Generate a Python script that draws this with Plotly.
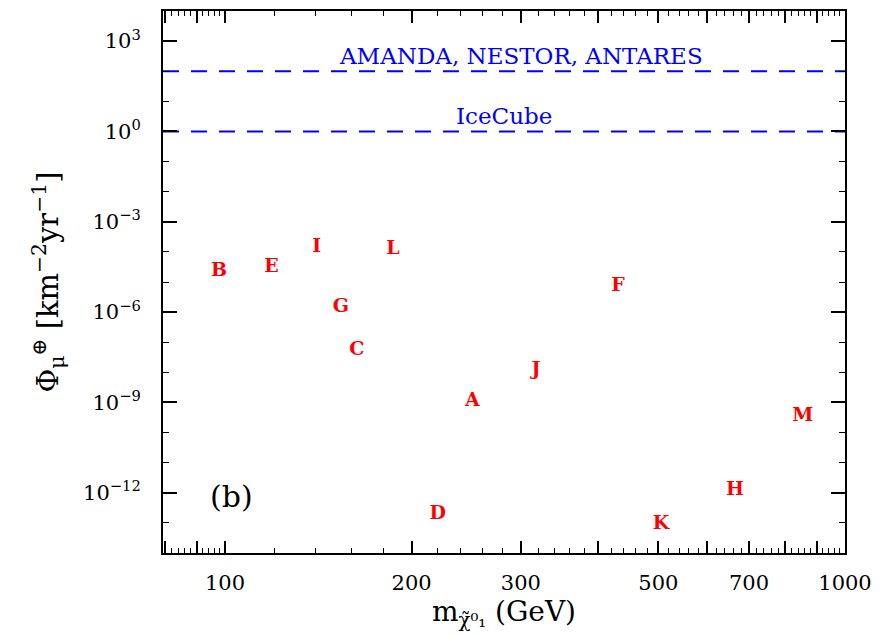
import math
import plotly.graph_objects as go

# Neutralino benchmark models: mass (GeV) and muon flux (km^-2 yr^-1)
models = ["A", "B", "C", "D", "E", "F", "G", "H", "I", "J", "K", "L", "M"]
mass = [250.6, 97.8, 163.1, 220.3, 118.9, 430.5, 153.8, 664.6, 140.6, 317.4, 504.8, 186.6, 855.0]
flux = [1.1e-9, 2.3e-5, 5.6e-8, 1.9e-13, 3.2e-5, 7.5e-6, 1.5e-6, 1.26e-12, 1.4e-4, 1.16e-8, 8.8e-14, 1.2e-4, 3.5e-10]

# Experimental sensitivities
experiments = ["AMANDA, NESTOR, ANTARES", "IceCube"]
sensitivity = [1e2, 1e0]
label_mass = [300, 282]

# Axis ticks
x_major = [80, 90, 100, 200, 300, 400, 500, 600, 700, 800, 900, 1000]
x_labels = ["", "", "100", "200", "300", "", "500", "", "700", "", "", "1000"]
x_minor = [v for v in range(82, 100, 2) if v != 90] + [v for v in range(120, 1000, 20) if v % 100 != 0]
y_exps = [-12, -9, -6, -3, 0, 3]
y_major = [10.0 ** e for e in y_exps]
y_labels = ["10<sup>%s</sup>" % (str(e).replace("-", "\u2212")) for e in y_exps]
y_minor = [10.0 ** e for e in range(-13, 4) if e % 3 != 0]

FONT = "DejaVu Serif"
RED = "#ff0000"
BLUE = "#0000ff"

fig = go.Figure()

for s in sensitivity:
    fig.add_trace(go.Scatter(
        x=[10 ** 1.9, 1000], y=[s, s], mode="lines",
        line=dict(color=BLUE, width=2, dash="16px,12px"),
        hoverinfo="skip", showlegend=False,
    ))

fig.add_trace(go.Scatter(
    x=mass, y=flux, mode="text", text=["<b>%s</b>" % m for m in models],
    textposition="middle center",
    textfont=dict(family=FONT, size=19, color=RED),
    showlegend=False,
))

# annotations on log axes take log10 coordinates
for name, s, m in zip(experiments, sensitivity, label_mass):
    fig.add_annotation(
        x=math.log10(m), y=math.log10(s), xref="x", yref="y", text=name,
        showarrow=False, xanchor="center", yanchor="bottom", yshift=0,
        font=dict(family=FONT, size=23, color=BLUE),
    )

fig.add_annotation(
    x=math.log10(102.6), y=math.log10(7.4e-13), xref="x", yref="y", text="(b)",
    showarrow=False, xanchor="center", yanchor="middle",
    font=dict(family=FONT, size=30, color="black"),
)

axis_common = dict(
    showline=True, linecolor="black", linewidth=2, mirror="allticks",
    ticks="inside", tickcolor="black", showgrid=False, zeroline=False,
    tickfont=dict(family=FONT, size=21, color="black"),
)

fig.update_xaxes(
    type="log", range=[1.9, 3.0],
    tickmode="array", tickvals=x_major, ticktext=x_labels,
    ticklen=12, tickwidth=1.5, ticklabelstandoff=10,
    minor=dict(tickmode="array", tickvals=x_minor, ticks="inside",
               ticklen=5, tickwidth=1.2, tickcolor="black", showgrid=False),
    title=dict(text="m<sub>\u03c7\u0303\u2070\u2081</sub> (GeV)",
               font=dict(family=FONT, size=28, color="black"), standoff=2),
    **axis_common,
)

fig.update_yaxes(
    type="log", range=[-14, 4],
    tickmode="array", tickvals=y_major, ticktext=y_labels,
    ticklen=14, tickwidth=1.5, ticklabelstandoff=16,
    minor=dict(tickmode="array", tickvals=y_minor, ticks="inside",
               ticklen=6, tickwidth=1.2, tickcolor="black", showgrid=False),
    title=dict(text="\u03a6<sub>\u03bc</sub><sup>\u2295</sup> [km<sup>\u22122</sup>yr<sup>\u22121</sup>]",
               font=dict(family=FONT, size=29, color="black"), standoff=16),
    **axis_common,
)

fig.update_layout(
    width=886, height=636,
    margin=dict(l=163, r=41, t=9, b=83),
    paper_bgcolor="white", plot_bgcolor="white",
    showlegend=False,
)

fig.write_html("out.html")
